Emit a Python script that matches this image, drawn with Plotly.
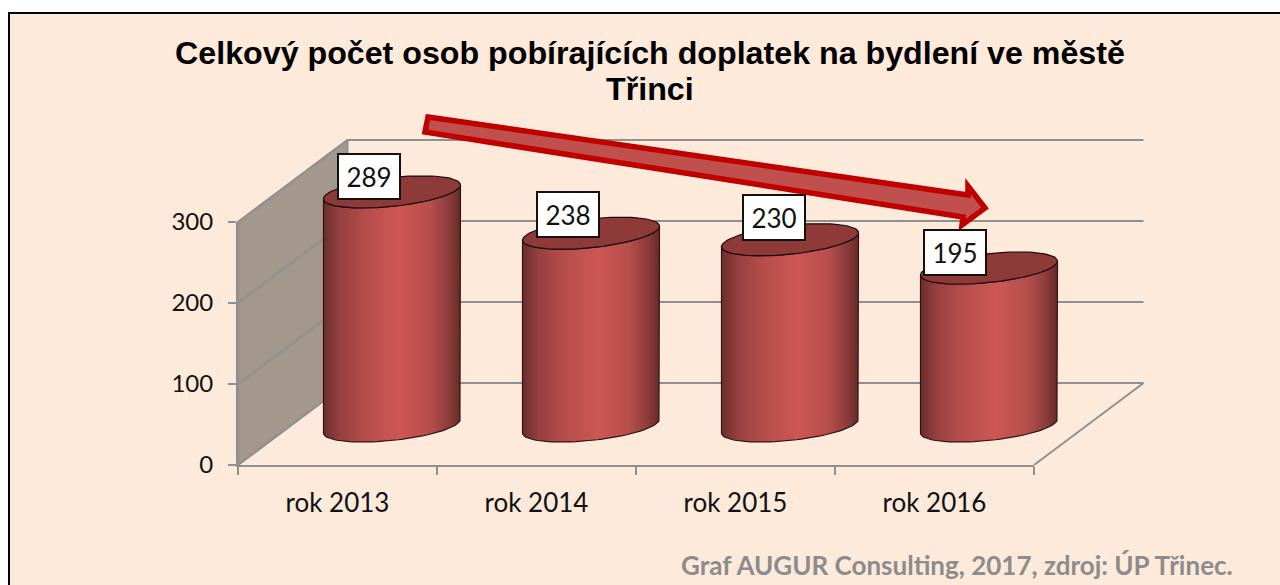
import numpy as np
import plotly.graph_objects as go

# --- data ---
categories = ["rok 2013", "rok 2014", "rok 2015", "rok 2016"]
values = [289, 238, 230, 195]
y_ticks = [0, 100, 200, 300]
title_line1 = "Celkový počet osob pobírajících doplatek na bydlení ve městě"
title_line2 = "Třinci"
source_text = "Graf AUGUR Consulting, 2017, zdroj: ÚP Třinec."

# --- layout constants (pixels) ---
W, H = 1280, 585
X0, X1 = 238, 1034      # front edge of the floor
Y0, Y300 = 465, 222     # front axis
PX_X = (X1 - X0) / 4    # pixels per category
PX_Y = (Y0 - Y300) / 300  # pixels per unit
DEPTH_X, DEPTH_Y = 109.5 / PX_X, 82 / PX_Y
CYL_DX, CYL_DY = 54.5 / PX_X, 39 / PX_Y
A, B, K = 68.5, 14.5, 7.0
label_offsets = [(-23, 15), (-23, 19), (-16, 22), (-34, 16)]
LINE = "#8f9090"
BG = "#FDEADB"

fig = go.Figure()

def add_poly(xs, ys, **kw):
    fig.add_trace(go.Scatter(x=xs, y=ys, mode="lines", xaxis="x", yaxis="y",
                             hoverinfo="skip", showlegend=False, **kw))

# side wall
add_poly([-0.5, -0.5 + DEPTH_X, -0.5 + DEPTH_X, -0.5, -0.5],
         [0, DEPTH_Y, 300 + DEPTH_Y, 300, 0],
         fill="toself", fillcolor="#A4978C", line=dict(color=LINE, width=2))
# gridlines on the wall and the back
for t in y_ticks:
    add_poly([-0.5, -0.5 + DEPTH_X, 3.5 + DEPTH_X],
             [t, t + DEPTH_Y, t + DEPTH_Y], line=dict(color=LINE, width=2))
# floor edge
add_poly([3.5, 3.5 + DEPTH_X], [0, DEPTH_Y], line=dict(color=LINE, width=2))

# cylinders
t_front = np.linspace(np.pi, 0, 50)
t_all = np.linspace(0, 2 * np.pi, 100)
def ex(t):
    return A * np.cos(t) / PX_X
def ey(t):
    # sheared ellipse, up is positive in data units
    return (K * np.cos(t) - B * np.sin(t)) / PX_Y

body_scale = [[0, "#6A2E2D"], [0.12, "#96403F"], [0.3, "#B54D4B"], [0.55, "#CE5755"],
              [0.78, "#B64E4C"], [0.92, "#8A3B3A"], [1, "#652B2A"]]
for i, v in enumerate(values):
    cx = i + CYL_DX
    base = CYL_DY
    top = v + CYL_DY
    xs = np.concatenate([cx + ex(t_front), cx + ex(t_front[::-1]), [cx + ex(t_front)[0]]])
    ys = np.concatenate([top + ey(t_front), base + ey(t_front[::-1]), [top + ey(t_front)[0]]])
    fig.add_trace(go.Scatter(
        x=xs, y=ys, mode="lines", fill="toself", hoverinfo="skip", xaxis="x", yaxis="y",
        showlegend=False, line=dict(color="#2E1514", width=1.2),
        fillgradient=dict(type="horizontal", colorscale=body_scale,
                          start=cx - A / PX_X, stop=cx + A / PX_X)))
    add_poly(cx + ex(t_all), top + ey(t_all), fill="toself", fillcolor="#8E3A39",
             line=dict(color="#1E0D0D", width=1.2))

# the visible axes carry the categories and the value scale
fig.add_trace(go.Scatter(x=categories, y=values, mode="markers", xaxis="x2", yaxis="y2",
                         marker=dict(opacity=0), hoverinfo="skip", showlegend=False))

annotations = []
for i, v in enumerate(values):
    dx, dy = label_offsets[i]
    annotations.append(dict(
        x=i + CYL_DX, y=v + CYL_DY, xref="x", yref="y", text=str(v), showarrow=False,
        xshift=dx, yshift=dy, xanchor="center", yanchor="middle",
        font=dict(family="Lato", size=26, color="#111111"),
        bgcolor="#FFFFFF", bordercolor="#111111", borderwidth=2,
        width=58, height=41, align="center", valign="middle"))
annotations.append(dict(
    x=1235 / W, y=1 - 565 / H, xref="paper", yref="paper", text=source_text, showarrow=False,
    xanchor="right", yanchor="middle",
    font=dict(family="Lato", size=26, color="#8C8C8C", weight="bold")))
annotations.append(dict(
    x=650 / W, y=1 - 89 / H, xref="paper", yref="paper", text=title_line2, showarrow=False,
    xanchor="center", yanchor="middle",
    font=dict(family="Liberation Sans", size=32.2, color="#000000", weight="bold")))

def px(x): return x / W
def py(y): return 1 - y / H
arrow = [(428, 117), (968, 195), (968, 186), (985, 208), (962, 225), (963, 217), (425, 132)]
arrow_path = "M" + " L".join(f"{px(a):.5f},{py(b):.5f}" for a, b in arrow) + " Z"

shapes = [
    dict(type="rect", xref="paper", yref="paper", x0=px(9), x1=1.002, y0=-0.002, y1=py(13),
         fillcolor=BG, line=dict(color="#000000", width=2), layer="below"),
    dict(type="path", xref="paper", yref="paper", path=arrow_path, layer="above",
         fillcolor="#C0504D", line=dict(color="#C00000", width=5.5)),
]

fig.update_layout(
    width=W, height=H, margin=dict(l=0, r=0, t=0, b=0, autoexpand=False),
    paper_bgcolor="#FFFFFF", plot_bgcolor="rgba(0,0,0,0)", showlegend=False,
    title=dict(text=title_line1, x=650 / W, xref="paper", xanchor="center",
               y=1 - 53 / H, yref="paper", yanchor="middle",
               font=dict(family="Liberation Sans", size=32.2, color="#000000", weight="bold")),
    shapes=shapes, annotations=annotations,
    # full-canvas axes for the 3D construction, aligned to the visible axes
    xaxis=dict(domain=[0, 1], range=[(0 - X0) / PX_X - 0.5, (W - X0) / PX_X - 0.5], visible=False),
    yaxis=dict(domain=[0, 1], range=[(Y0 - H) / PX_Y, Y0 / PX_Y], visible=False),
    xaxis2=dict(domain=[X0 / W, X1 / W], type="category", categoryorder="array",
                categoryarray=categories, range=[-0.5, 3.5], anchor="y2",
                tickson="boundaries", ticks="outside", ticklen=8, tickwidth=2, tickcolor=LINE,
                showgrid=False, zeroline=False, showline=True, linecolor=LINE, linewidth=2,
                ticklabelstandoff=14, tickfont=dict(family="Lato", size=26, color="#111111")),
    yaxis2=dict(domain=[1 - Y0 / H, 1 - Y300 / H], range=[0, 300], anchor="x2", tickmode="array",
                tickvals=y_ticks, ticks="outside", ticklen=8, tickwidth=2, tickcolor=LINE,
                showgrid=False, zeroline=False, showline=True, linecolor=LINE, linewidth=2,
                ticklabelstandoff=10, tickfont=dict(family="Lato", size=24, color="#111111")),
)

fig.write_html("out.html", config={"displayModeBar": False},
               post_script="document.body.style.margin='0';document.body.style.overflow='hidden';")
